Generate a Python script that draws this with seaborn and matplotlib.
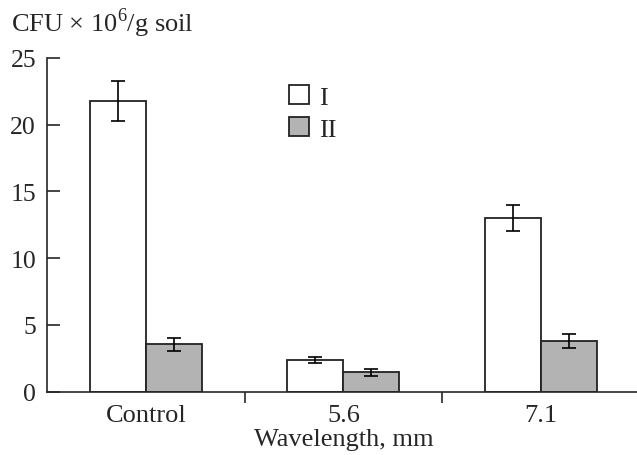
import numpy as np
import pandas as pd
import matplotlib
matplotlib.use("Agg")
import matplotlib.pyplot as plt
import matplotlib.patches as mpatches
import seaborn as sns

groups = ["Control", "5.6", "7.1"]
series = ["I", "II"]
vals_I = [21.8, 2.4, 13.0]
vals_II = [3.55, 1.45, 3.8]
err_I = [1.5, 0.22, 0.95]
err_II = [0.5, 0.25, 0.55]

df = pd.DataFrame({
    "group": groups * 2,
    "series": ["I"] * 3 + ["II"] * 3,
    "value": vals_I + vals_II,
    "err": err_I + err_II,
})

sns.set_style("ticks")
plt.rcParams["font.family"] = ["Liberation Serif", "DejaVu Serif"]
plt.rcParams["mathtext.fontset"] = "custom"
plt.rcParams["mathtext.rm"] = "Liberation Serif"

fig = plt.figure(figsize=(6.37, 4.56), dpi=100)
ax = fig.add_axes([0.074, 0.139, 0.93, 0.732])

pal = {"I": "white", "II": "#b3b3b3"}
sns.barplot(data=df, x="group", y="value", hue="series", palette=pal,
            width=0.567, gap=0, errorbar=None, edgecolor="#222222",
            linewidth=1.3, legend=False, ax=ax)

# error bars placed on the drawn bars
for i, s in enumerate(series):
    cont = ax.containers[i]
    sub = df[df["series"] == s]
    xs = [p.get_x() + p.get_width() / 2 for p in cont.patches]
    ax.errorbar(xs, sub["value"].values, yerr=sub["err"].values, fmt="none",
                ecolor="black", elinewidth=1.2, capsize=5, capthick=1.2)

ax.set_xlim(-0.5, 2.5)
ax.set_ylim(0, 25)
ax.set_yticks([0, 5, 10, 15, 20, 25])
ax.tick_params(axis="y", direction="in", length=9, width=1.2, labelsize=18.5, pad=8)
ax.set_xticks([0, 1, 2])
ax.set_xticklabels(groups)
ax.tick_params(axis="x", which="major", length=0, labelsize=19, pad=9)
ax.set_xticks([0.5, 1.5], minor=True)
ax.tick_params(axis="x", which="minor", direction="out", length=8, width=1.2)
ax.set_xlabel("Wavelength, mm", fontsize=19, labelpad=1)
ax.set_ylabel("")
for sp in ["top", "right"]:
    ax.spines[sp].set_visible(False)
for sp in ["left", "bottom"]:
    ax.spines[sp].set_linewidth(1.2)

fig.text(0.018, 0.93, "CFU × 10$^6$/g soil", fontsize=19, ha="left", va="baseline")

handles = [mpatches.Patch(facecolor=pal[s], edgecolor="#222222", linewidth=1.3, label=s)
           for s in series]
ax.legend(handles=handles, loc="upper left", bbox_to_anchor=(0.39, 0.95),
          frameon=False, fontsize=19, handlelength=0.75, handleheight=0.75,
          handletextpad=0.4, labelspacing=0.3, borderaxespad=0)

fig.savefig("out.png", dpi=100)
